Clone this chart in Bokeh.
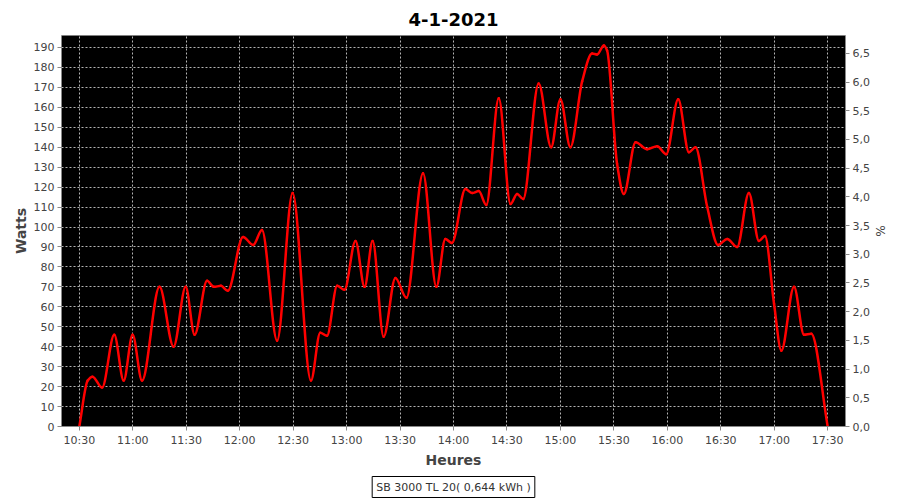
from datetime import datetime
import numpy as np
from bokeh.plotting import figure
from bokeh.models import (Range1d, LinearAxis, FixedTicker, DatetimeTickFormatter,
                          CustomJSTickFormatter, Title, ColumnDataSource)
from bokeh.embed import file_html
from bokeh.resources import INLINE

DAY = "2021-01-04"
TITLE = "4-1-2021"
SERIES = "SB 3000 TL 20( 0,644 kWh )"

times = ["10:30:00", "10:34:42", "10:37:24", "10:42:48", "10:49:36", "10:54:54", "10:59:54",
         "11:05:12", "11:15:00", "11:22:54", "11:29:42", "11:34:42", "11:41:42", "11:45:24",
         "11:49:30", "11:53:18", "12:01:54", "12:07:36", "12:12:30", "12:21:00", "12:29:42",
         "12:40:00", "12:45:12", "12:49:00", "12:54:42", "12:58:48", "13:05:00", "13:10:06",
         "13:14:36", "13:20:48", "13:27:24", "13:33:36", "13:42:54", "13:50:24", "13:55:24",
         "13:59:06", "14:06:42", "14:10:30", "14:14:12", "14:18:24", "14:25:24", "14:32:00",
         "14:35:42", "14:39:06", "14:47:48", "14:54:48", "15:00:00", "15:05:36", "15:12:12",
         "15:17:48", "15:20:36", "15:24:24", "15:26:12", "15:31:48", "15:35:36", "15:42:12",
         "15:48:42", "15:54:18", "15:59:24", "16:06:06", "16:12:06", "16:15:48", "16:22:24",
         "16:28:30", "16:33:36", "16:39:12", "16:45:48", "16:51:24", "16:54:48", "16:59:54",
         "17:04:00", "17:11:06", "17:16:42", "17:20:48", "17:30:00"]
watts = [0, 23, 25, 19.5, 46, 23, 46,
         23, 70, 40, 70, 46, 73, 70,
         70.5, 68, 95, 91, 98.5, 43, 117,
         23, 47, 45.5, 70.5, 68.5, 93, 70,
         93, 45, 74.5, 64.5, 127, 70, 94,
         92, 119, 117, 118, 111, 164.5, 111.5,
         116.5, 114, 172, 140, 164, 140, 173,
         187, 186.5, 191, 188.5, 131.7, 116.5, 142.5,
         139, 140.5, 136.5, 164, 137.5, 140, 110,
         91, 94, 90, 117, 93, 95.5, 61.5,
         38, 70, 46, 46.5, 0]

x_ticks = ["10:30", "11:00", "11:30", "12:00", "12:30", "13:00", "13:30", "14:00",
           "14:30", "15:00", "15:30", "16:00", "16:30", "17:00", "17:30"]
watt_ticks = list(range(0, 200, 10))
pct_ticks = [0.0, 0.5, 1.0, 1.5, 2.0, 2.5, 3.0, 3.5, 4.0, 4.5, 5.0, 5.5, 6.0, 6.5]
x_start, x_end = "10:20", "17:40"
watt_max = 196
pct_max = 6.81

EPOCH = datetime(1970, 1, 1)


def ms(hms):
    fmt = "%Y-%m-%d %H:%M:%S" if hms.count(":") == 2 else "%Y-%m-%d %H:%M"
    return (datetime.strptime(DAY + " " + hms, fmt) - EPOCH).total_seconds() * 1000.0


x = np.array([ms(t) for t in times])
y = np.array(watts, dtype=float)

# monotone cubic (Fritsch-Carlson) tangents -> cubic Bezier segments for a smooth curve
h = np.diff(x)
d = np.diff(y) / h
m = np.zeros_like(y)
m[0], m[-1] = d[0], d[-1]
for i in range(1, len(y) - 1):
    if d[i - 1] * d[i] <= 0:
        m[i] = 0.0
    else:
        w1 = 2 * h[i] + h[i - 1]
        w2 = h[i] + 2 * h[i - 1]
        m[i] = (w1 + w2) / (w1 / d[i - 1] + w2 / d[i])

seg = ColumnDataSource(dict(
    x0=x[:-1], y0=y[:-1], x1=x[1:], y1=y[1:],
    cx0=x[:-1] + h / 3, cy0=y[:-1] + m[:-1] * h / 3,
    cx1=x[1:] - h / 3, cy1=y[1:] - m[1:] * h / 3,
))

FONT = "DejaVu Sans"
GREY = "#888888"
TXT = "#444444"

p = figure(width=900, height=500, frame_width=784, frame_height=391, x_axis_type="datetime",
           x_range=Range1d(ms(x_start), ms(x_end)), y_range=Range1d(0, watt_max),
           output_backend="svg", toolbar_location=None, title=TITLE,
           min_border_left=61, min_border_right=55, min_border_top=35, min_border_bottom=0,
           background_fill_color="black", border_fill_color="white", outline_line_color=None)

p.title.align = "center"
p.title.text_font = FONT
p.title.text_font_size = "18px"
p.title.text_font_style = "bold"
p.title.text_color = "black"
p.title.standoff = 19

p.bezier(x0="x0", y0="y0", x1="x1", y1="y1", cx0="cx0", cy0="cy0", cx1="cx1", cy1="cy1",
         source=seg, line_color="#ff0000", line_width=2.5, line_cap="round")

# axes
p.xaxis.ticker = FixedTicker(ticks=[ms(t) for t in x_ticks])
p.xaxis.formatter = DatetimeTickFormatter(minutes="%H:%M", hourmin="%H:%M", hours="%H:%M",
                                          minsec="%H:%M", seconds="%H:%M", days="%H:%M")
p.xaxis.axis_label = "Heures"
p.yaxis.ticker = FixedTicker(ticks=watt_ticks)
p.yaxis.axis_label = "Watts"

ax_r = LinearAxis(y_range_name="pct", ticker=FixedTicker(ticks=pct_ticks), axis_label="%",
                  formatter=CustomJSTickFormatter(code="return tick.toFixed(1).replace('.', ',');"))
p.extra_y_ranges = {"pct": Range1d(0, pct_max)}
p.add_layout(ax_r, "right")

for ax in [p.xaxis[0], p.yaxis[0], ax_r]:
    ax.axis_line_color = GREY
    ax.major_tick_line_color = GREY
    ax.major_tick_out = 4
    ax.major_tick_in = 0
    ax.minor_tick_line_color = None
    ax.major_label_text_font = FONT
    ax.major_label_text_font_size = "11px"
    ax.major_label_text_color = TXT
    ax.major_label_standoff = 3
    ax.axis_label_text_font = FONT
    ax.axis_label_text_font_size = "14px"
    ax.axis_label_text_font_style = "bold"
    ax.axis_label_text_color = TXT
    ax.axis_label_standoff = 2
ax_r.axis_label_text_font_size = "12px"
ax_r.axis_label_text_font_style = "normal"
ax_r.axis_label_standoff = 0

for g in [p.xgrid[0], p.ygrid[0]]:
    g.grid_line_color = "#b4b4b4"
    g.grid_line_dash = "2 2"
    g.grid_line_width = 1
p.ygrid.ticker = FixedTicker(ticks=watt_ticks)

# series key below the axis, boxed
key = Title(text=SERIES, align="center", text_font=FONT, text_font_size="11px",
            text_font_style="normal", text_color="#333333",
            background_fill_color="white", border_line_color="black", border_line_width=1,
            padding=4, standoff=8)
p.add_layout(key, "below")

open("out.html", "w").write(file_html(p, INLINE))
